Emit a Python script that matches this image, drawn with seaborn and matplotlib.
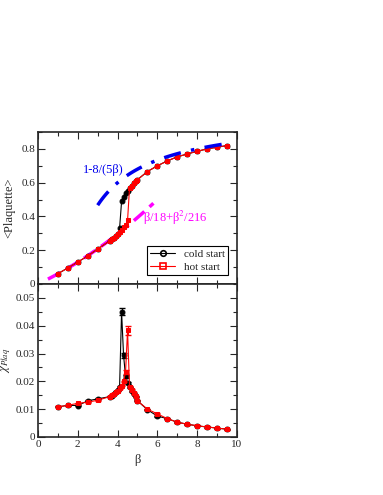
import numpy as np
import pandas as pd
import matplotlib
matplotlib.use("Agg")
import matplotlib.pyplot as plt
import seaborn as sns
from matplotlib.lines import Line2D
from matplotlib.ticker import MultipleLocator

# beta values of the simulation
beta = [1.0, 1.5, 2.0, 2.5, 3.0, 3.6, 3.7, 3.8, 3.9, 4.0, 4.1, 4.2, 4.3, 4.4, 4.5,
        4.6, 4.7, 4.8, 4.9, 5.0, 5.5, 6.0, 6.5, 7.0, 7.5, 8.0, 8.5, 9.0, 9.5]

# average plaquette
plaq_cold = [0.061, 0.095, 0.130, 0.166, 0.207, 0.255, 0.265, 0.275, 0.285, 0.297, 0.330, 0.489, 0.518, 0.538, 0.553,
             0.570, 0.583, 0.596, 0.607, 0.618, 0.666, 0.700, 0.729, 0.753, 0.770, 0.786, 0.800, 0.810, 0.820]
plaq_hot = [0.061, 0.095, 0.130, 0.166, 0.207, 0.255, 0.265, 0.275, 0.285, 0.297, 0.310, 0.322, 0.335, 0.350, 0.376,
            0.570, 0.583, 0.596, 0.607, 0.618, 0.666, 0.700, 0.729, 0.753, 0.770, 0.786, 0.800, 0.810, 0.820]

# plaquette susceptibility
chi_cold = [0.0108, 0.0114, 0.0113, 0.0130, 0.0137, 0.0145, 0.0148, 0.0155, 0.0162, 0.0168, 0.0180, 0.0450, 0.0293, 0.0218, 0.0195,
            0.0178, 0.0165, 0.0155, 0.0145, 0.0130, 0.0098, 0.0075, 0.0066, 0.0053, 0.0046, 0.0040, 0.0036, 0.0032, 0.0028]
chi_hot = [0.0108, 0.0114, 0.0121, 0.0125, 0.0132, 0.0145, 0.0152, 0.0156, 0.0160, 0.0167, 0.0176, 0.0185, 0.0200, 0.0234, 0.0383,
           0.0180, 0.0169, 0.0158, 0.0146, 0.0130, 0.0100, 0.0083, 0.0066, 0.0053, 0.0046, 0.0040, 0.0036, 0.0032, 0.0028]
chi_cold_err = [0.0002] * 11 + [0.0012, 0.0008, 0.0005, 0.0004] + [0.0002] * 14
chi_hot_err = [0.0002] * 13 + [0.0006, 0.0015] + [0.0002] * 14

df = pd.DataFrame({"beta": beta, "plaq_cold": plaq_cold, "plaq_hot": plaq_hot,
                   "chi_cold": chi_cold, "chi_hot": chi_hot,
                   "chi_cold_err": chi_cold_err, "chi_hot_err": chi_hot_err})

# strong and weak coupling expansions
b_strong = np.linspace(0.5, 5.8, 100)
strong = b_strong / 18 + b_strong ** 2 / 216
b_weak = np.linspace(3.0, 9.5, 100)
weak = 1 - 8 / (5 * b_weak)

sns.set_style("ticks")
plt.rcParams["font.family"] = ["Liberation Serif", "DejaVu Serif"]
plt.rcParams["mathtext.fontset"] = "stix"

fig = plt.figure(figsize=(3.83, 4.95), dpi=100)
ax1 = fig.add_axes([0.0992, 0.4263, 0.5196, 0.3070])
ax2 = fig.add_axes([0.0992, 0.1172, 0.5196, 0.3091], sharex=ax1)

ms = 3.5

# top panel
ax1.plot(b_strong, strong, color="#ff00ff", lw=2.5, ls=(0, (4, 2)), zorder=1)
ax1.plot(b_weak, weak, color="#0000ee", lw=2.5, ls=(0, (5, 3, 1, 3)), zorder=4)
sns.lineplot(data=df, x="beta", y="plaq_cold", ax=ax1, color="black", lw=0.8,
             marker="o", markersize=ms, markerfacecolor="black", markeredgecolor="black", zorder=2)
sns.lineplot(data=df, x="beta", y="plaq_hot", ax=ax1, color="red", lw=0.8,
             marker="s", markersize=ms, markerfacecolor="red", markeredgecolor="red", zorder=3)
ax1.text(2.25, 0.655, "1-8/(5β)", color="#0000ee", fontsize=9)
ax1.text(5.3, 0.37, r"β/18+β$^2$/216", color="#ff00ff", fontsize=9)

handles = [Line2D([], [], color="black", lw=0.8, marker="o", markersize=4, mfc="none", mew=1.2),
           Line2D([], [], color="red", lw=0.8, marker="s", markersize=4, mfc="none", mew=1.2)]
leg = ax1.legend(handles, ["cold start", "hot start"], loc="lower right", fontsize=8,
                 frameon=True, fancybox=False, edgecolor="black", framealpha=1,
                 handlelength=2.2, borderpad=0.3, labelspacing=0.3, borderaxespad=0.8)
leg.get_frame().set_linewidth(0.8)

ax1.set_ylim(0, 0.9)
ax1.set_ylabel("<Plaquette>", fontsize=9)
ax1.set_xlabel("")
ax1.set_yticks([0, 0.2, 0.4, 0.6, 0.8])
ax1.set_yticklabels(["0", "0.2", "0.4", "0.6", "0.8"])
ax1.yaxis.set_minor_locator(MultipleLocator(0.1))
plt.setp(ax1.get_xticklabels(), visible=False)

# bottom panel
ax2.errorbar(df["beta"], df["chi_cold"], yerr=df["chi_cold_err"], fmt="none", ecolor="black",
             elinewidth=0.8, capsize=2, zorder=2)
ax2.errorbar(df["beta"], df["chi_hot"], yerr=df["chi_hot_err"], fmt="none", ecolor="red",
             elinewidth=0.8, capsize=2, zorder=3)
sns.lineplot(data=df, x="beta", y="chi_cold", ax=ax2, color="black", lw=0.8,
             marker="o", markersize=ms, markerfacecolor="black", markeredgecolor="black", zorder=2)
sns.lineplot(data=df, x="beta", y="chi_hot", ax=ax2, color="red", lw=0.8,
             marker="s", markersize=ms, markerfacecolor="red", markeredgecolor="red", zorder=3)

ax2.set_ylim(0, 0.055)
ax2.set_xlim(0, 10)
ax2.set_yticks([0, 0.01, 0.02, 0.03, 0.04, 0.05])
ax2.set_yticklabels(["0", "0.01", "0.02", "0.03", "0.04", "0.05"])
ax2.yaxis.set_minor_locator(MultipleLocator(0.005))
ax2.xaxis.set_major_locator(MultipleLocator(2))
ax2.xaxis.set_minor_locator(MultipleLocator(1))
ax2.set_xlabel("β", fontsize=9)
ax2.set_ylabel(r"$\chi_{Plaq}$", fontsize=9, labelpad=2)

for ax in (ax1, ax2):
    for s in ax.spines.values():
        s.set_visible(True)
        s.set_linewidth(1.2)
    ax.tick_params(which="both", direction="in", top=True, right=True, labelsize=8, pad=2)
    ax.tick_params(which="major", length=5, width=0.8)
    ax.tick_params(which="minor", length=3, width=0.8)

fig.savefig("out.png", dpi=100)
